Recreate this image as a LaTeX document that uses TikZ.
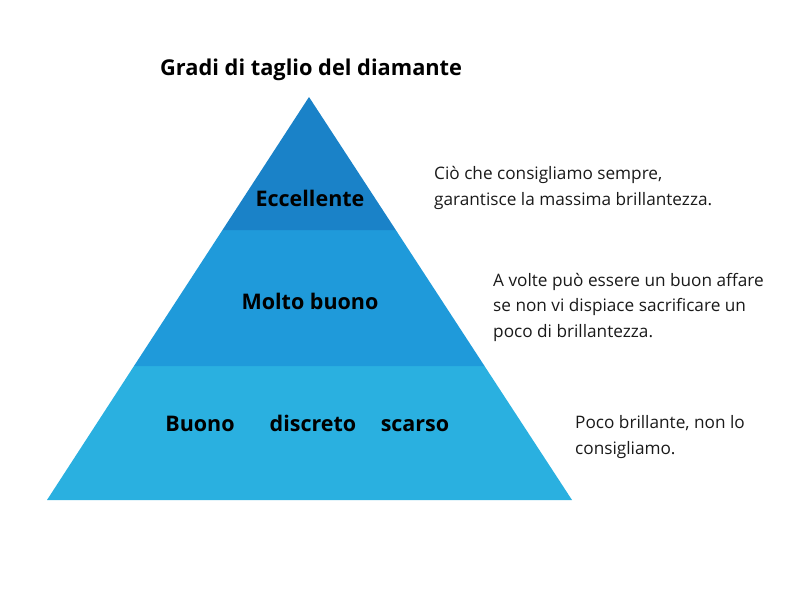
\documentclass[tikz,border=0pt]{standalone}
\usepackage{fontspec}
\setmainfont{Open Sans}
\definecolor{topband}{HTML}{1A82C8}
\definecolor{midband}{HTML}{1F9ADA}
\definecolor{botband}{HTML}{2AB0E0}
\definecolor{txt}{HTML}{1A1A1A}
\tikzset{
  band/.style={draw=none},
  lvl/.style={font=\fontsize{21.5}{24}\selectfont\bfseries, text=black, inner sep=0pt, anchor=base},
  desc/.style={font=\fontsize{17.2}{25.5}\selectfont, text=txt, align=left, anchor=west, inner sep=0pt},
  ttl/.style={font=\fontsize{21.8}{24}\selectfont\bfseries, text=black, inner sep=0pt, anchor=base west}
}
\begin{document}
\begin{tikzpicture}[x=1pt,y=-1pt]
\useasboundingbox (0,0) rectangle (800,594);
\coordinate (apex) at (309,97);
\coordinate (l1) at (222.5,230);
\coordinate (r1) at (395.8,230);
\coordinate (l2) at (134,366);
\coordinate (r2) at (484.5,366);
\coordinate (bl) at (47,500);
\coordinate (br) at (572,500);
\fill[band, botband] (l2) -- (r2) -- (br) -- (bl) -- cycle;
\fill[band, midband] (l1) -- (r1) -- (r2) -- (l2) -- cycle;
\fill[band, topband] (apex) -- (r1) -- (l1) -- cycle;
\node[ttl] (title) at (160,75) {Gradi di taglio del diamante};
\node[lvl] (ecc) at (310,206) {Eccellente};
\node[lvl] (mb) at (310,309) {Molto buono};
\node[lvl] (buono) at (200,431) {Buono};
\node[lvl] (disc) at (313,431) {discreto};
\node[lvl] (scar) at (415,431) {scarso};
\node[desc] (d1) at (434,188) {Ciò che consigliamo sempre,\\garantisce la massima brillantezza.};
\node[desc] (d2) at (493,307) {A volte può essere un buon affare\\se non vi dispiace sacrificare un\\poco di brillantezza.};
\node[desc] (d3) at (575,437) {Poco brillante, non lo\\consigliamo.};
\end{tikzpicture}
\end{document}
